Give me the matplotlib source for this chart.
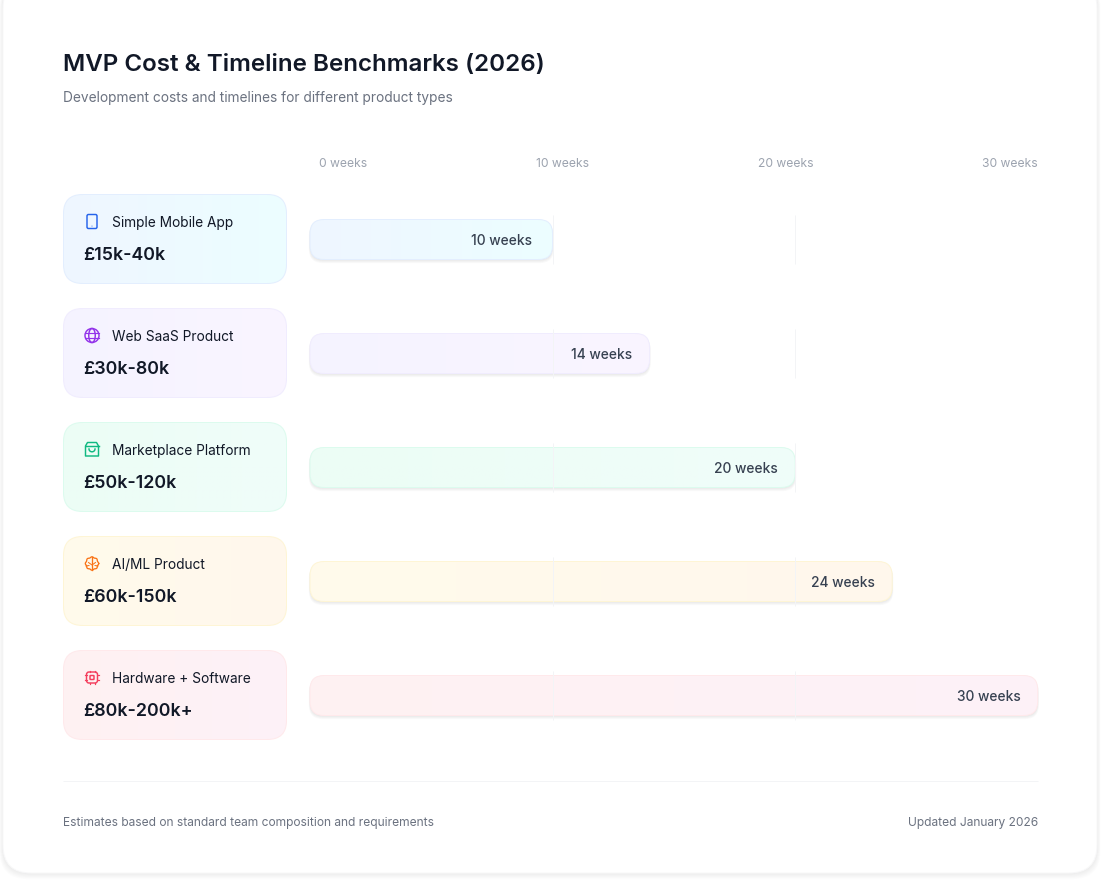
import numpy as np
import matplotlib
matplotlib.use("Agg")
import matplotlib.pyplot as plt
from matplotlib.patches import FancyBboxPatch, Circle, Ellipse, Polygon
from matplotlib.colors import LinearSegmentedColormap

plt.rcParams['font.family'] = ['Inter', 'DejaVu Sans']

# data
products = ["Simple Mobile App", "Web SaaS Product", "Marketplace Platform", "AI/ML Product", "Hardware + Software"]
costs = ["£15k-40k", "£30k-80k", "£50k-120k", "£60k-150k", "£80k-200k+"]
weeks = [10, 14, 20, 24, 30]
axis_weeks = [0, 10, 20, 30]
axis_label_x = [343, 562, 785.5, 1010]
label_pad = [21, 17, 17, 17, 17]

# colours per row
grad_left = ["#eff6ff", "#f5f3ff", "#ecfdf5", "#fffbeb", "#fff1f2"]
grad_right = ["#ecfeff", "#faf5ff", "#f0fdfa", "#fff7ed", "#fdf2f8"]
borders = ["#e3eefe", "#f0ecfe", "#dcfbee", "#fef5d5", "#ffe9eb"]
icon_colors = ["#2563eb", "#9333ea", "#10b981", "#f97316", "#f43f5e"]

W, H = 1104, 883
row_step = 114
card_top = 194
card_h = 89
bar_top = 219.5
bar_h = 40


def px(v):
    return v * 0.72


def rounded(ax, x, y, w, h, r, aspect=1, **kw):
    p = FancyBboxPatch((x, y), w, h, boxstyle=f"round,pad=0,rounding_size={r}",
                       mutation_aspect=aspect, clip_on=False, **kw)
    ax.add_patch(p)
    return p


def gradient(ax, patch, c0, c1, extent, zorder):
    cmap = LinearSegmentedColormap.from_list("g", [c0, c1])
    im = ax.imshow(np.linspace(0, 1, 256).reshape(1, -1), cmap=cmap, extent=extent,
                   aspect="auto", zorder=zorder, interpolation="bilinear")
    im.set_clip_path(patch)


fig = plt.figure(figsize=(W / 100, H / 100), dpi=100, facecolor="white")

# page layer in pixel coordinates
bg = fig.add_axes([0, 0, 1, 1])
bg.set_xlim(0, W)
bg.set_ylim(H, 0)
bg.axis("off")

# white card with soft shadow
for i in range(10):
    rounded(bg, 3 - i * 0.4, -20, 1094 + i * 0.8, 893 + i * 0.7, 28,
            fc="#000000", ec="none", alpha=0.009, zorder=1)
rounded(bg, 3, -20, 1094, 893, 28, fc="white", ec="#f8f8f9", lw=0.72, zorder=2)

bg.text(63, 71, "MVP Cost & Timeline Benchmarks (2026)", fontsize=px(24.15), fontweight=600,
        color="#111827", va="baseline", zorder=5)
bg.text(63, 102, "Development costs and timelines for different product types", fontsize=px(13.7),
        color="#6b7280", va="baseline", zorder=5)

for x, w in zip(axis_label_x, axis_weeks):
    bg.text(x, 167.2, f"{w} weeks", fontsize=px(12.1), color="#9ca3af", ha="center", va="baseline", zorder=5)

# footer
bg.plot([63, 1038], [780.5, 780.5], color="#f3f4f6", lw=0.72, solid_capstyle="butt", zorder=3)
bg.text(63, 826.4, "Estimates based on standard team composition and requirements", fontsize=px(12),
        color="#6b7280", va="baseline", zorder=5)
bg.text(1038, 826.4, "Updated January 2026", fontsize=px(12), color="#6b7280", ha="right", va="baseline", zorder=5)


def icon(ax, i, cx, cy, c):
    lw = 1.05
    kw = dict(fc="none", ec=c, lw=lw, zorder=6)
    if i == 0:
        rounded(ax, cx - 5, cy - 7, 10, 14, 1.5, **kw)
        ax.add_patch(Circle((cx, cy + 4.6), 0.7, fc=c, ec="none", alpha=0.5, zorder=6))
    elif i == 1:
        ax.add_patch(Circle((cx, cy), 7, **kw))
        ax.add_patch(Ellipse((cx, cy), 6.5, 14, **kw))
        ax.plot([cx - 7, cx + 7], [cy - 2.3, cy - 2.3], color=c, lw=lw * 0.8, zorder=6)
        ax.plot([cx - 7, cx + 7], [cy + 2.3, cy + 2.3], color=c, lw=lw * 0.8, zorder=6)
    elif i == 2:
        ax.add_patch(Polygon([(cx - 4.5, cy - 7), (cx + 4.5, cy - 7), (cx + 6.5, cy - 3.5), (cx + 6.5, cy + 6.5),
                              (cx - 6.5, cy + 6.5), (cx - 6.5, cy - 3.5)], closed=True, joinstyle="round", **kw))
        ax.plot([cx - 6.5, cx + 6.5], [cy - 3.5, cy - 3.5], color=c, lw=lw, zorder=6)
        t = np.linspace(0, np.pi, 20)
        ax.plot(cx + 3 * np.cos(t), cy - 0.5 + 2.8 * np.sin(t), color=c, lw=lw, zorder=6)
    elif i == 3:
        t = np.linspace(0, 2 * np.pi, 120)
        rad = 6.3 + 0.4 * np.cos(8 * t)
        ax.plot(cx + rad * np.cos(t), cy + rad * np.sin(t), color=c, lw=lw * 0.9, zorder=6)
        ax.plot([cx, cx], [cy - 6.5, cy + 6.5], color=c, lw=lw * 0.9, zorder=6)
        ax.plot([cx - 3.5, cx, cx + 3.5], [cy - 1, cy + 1.5, cy - 1], color=c, lw=lw * 0.7, zorder=6)
        ax.plot([cx - 6, cx - 3], [cy + 2.5, cy + 2], color=c, lw=lw * 0.7, zorder=6)
        ax.plot([cx + 6, cx + 3], [cy + 2.5, cy + 2], color=c, lw=lw * 0.7, zorder=6)
    else:
        rounded(ax, cx - 5.5, cy - 5.5, 11, 11, 2.5, **kw)
        rounded(ax, cx - 2, cy - 2, 4, 4, 0.6, **kw)
        for d in (-2.5, 2.5):
            ax.plot([cx + d, cx + d], [cy - 6.8, cy - 5.5], color=c, lw=lw * 0.8, zorder=6)
            ax.plot([cx + d, cx + d], [cy + 5.5, cy + 6.8], color=c, lw=lw * 0.8, zorder=6)
            ax.plot([cx - 6.8, cx - 5.5], [cy + d, cy + d], color=c, lw=lw * 0.8, zorder=6)
            ax.plot([cx + 5.5, cx + 6.8], [cy + d, cy + d], color=c, lw=lw * 0.8, zorder=6)


# cards on the left
for i, (name, cost) in enumerate(zip(products, costs)):
    top = card_top + i * row_step
    rounded(bg, 63.5, top + 0.5, 223, card_h, 19, fc="none", ec=borders[i], lw=0.72, zorder=4)
    clip = rounded(bg, 63.5, top + 0.5, 223, card_h, 19, fc="none", ec="none", zorder=3)
    gradient(bg, clip, grad_left[i], grad_right[i], (63, 287, top + card_h, top), 3)
    icon(bg, i, 92, top + 27.5, icon_colors[i])
    bg.text(112, top + 32.7, name, fontsize=px(13.7), color="#111827", va="baseline", zorder=5)
    bg.text(83.2, top + 66, cost, fontsize=px(17.8), color="#111827", fontweight=600, va="baseline", zorder=5)

# chart layer: x in weeks, y in page pixels
x0, x1 = 310, 1037.7
ax = fig.add_axes([x0 / W, 0, (x1 - x0) / W, 1], facecolor="none")
sx = (x1 - x0) / 30
asp = sx  # y px per week unit
r = 14 / sx

for i, wk in enumerate(weeks):
    top = bar_top + i * row_step
    # soft shadow below the bar
    for k in range(5):
        rounded(ax, -k * 0.3 / sx, top + 0.5 + k * 0.4, wk + k * 0.6 / sx, bar_h + k * 0.4, r, aspect=asp,
                fc="#000000", ec="none", alpha=0.018, zorder=3)
    clip = rounded(ax, 0, top, wk, bar_h, r, aspect=asp, fc="white", ec="none", zorder=4)
    gradient(ax, clip, grad_left[i], grad_right[i], (0, wk, top + bar_h, top), 4)
    rounded(ax, 0, top, wk, bar_h, r, aspect=asp, fc="none", ec=borders[i], lw=0.72, zorder=5)
    ax.text(wk - label_pad[i] / sx, top + 25.5, f"{wk} weeks", fontsize=px(13.8), color="#374151", fontweight=500,
            ha="right", va="baseline", zorder=7)
    # gridlines per row
    for g in axis_weeks[1:-1]:
        ax.plot([g, g], [top - 4.5, top + bar_h + 4.5], color="#f3f4f6", lw=0.72, solid_capstyle="butt", zorder=6)

ax.set_xlim(0, 30)
ax.set_ylim(H, 0)
ax.axis("off")
fig.savefig("out.png", dpi=100)
